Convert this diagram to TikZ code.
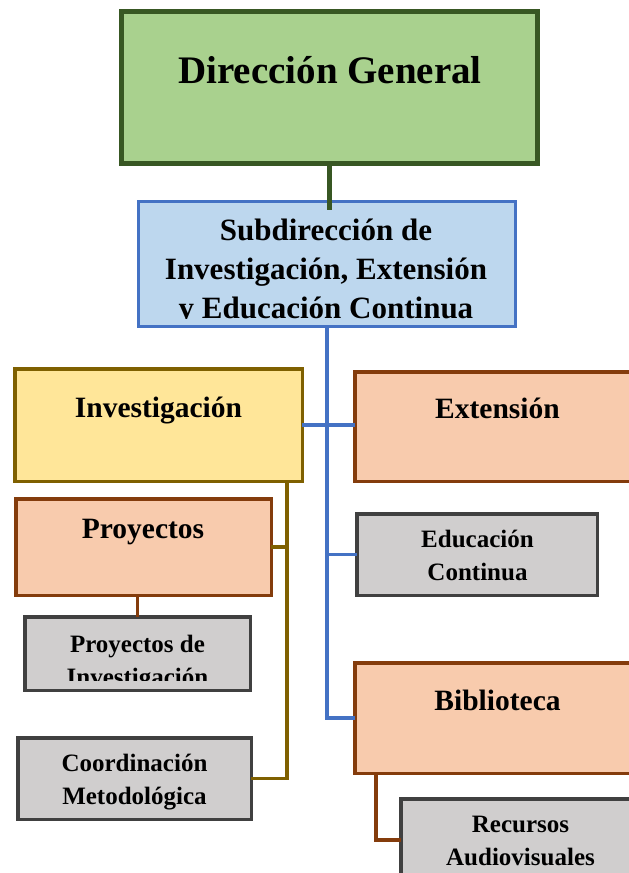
\documentclass[tikz,border=0pt]{standalone}
\usepackage{fontspec}
\setmainfont{Liberation Serif}
\usetikzlibrary{calc}

\definecolor{vertF}{HTML}{A9D18E}
\definecolor{vertB}{HTML}{385723}
\definecolor{bleuF}{HTML}{BDD7EE}
\definecolor{bleuB}{HTML}{4472C4}
\definecolor{jauneF}{HTML}{FFE699}
\definecolor{jauneB}{HTML}{7F6000}
\definecolor{saumonF}{HTML}{F8CBAD}
\definecolor{saumonB}{HTML}{843C0C}
\definecolor{grisF}{HTML}{D0CECE}
\definecolor{grisB}{HTML}{404040}

\begin{document}
\begin{tikzpicture}[x=1pt,y=-1pt,
  boite/.style={rectangle,inner sep=0pt,outer sep=0pt,line width=3.5pt},
  lien/.style={line width=3.8pt},
  etiq/.style={anchor=base,inner sep=0pt,font=\bfseries\fontsize{29.5}{39}\selectfont},
  petit/.style={anchor=base,inner sep=0pt,align=center,font=\bfseries\fontsize{25}{33}\selectfont}]

\path[use as bounding box] (0,0) rectangle (629,873);
\clip (0,0) rectangle (629,873);

%%%%%%%%%%%%%%%%%%%%%%%%
% Les boites
%%%%%%%%%%%%%%%%%%%%%%%%
\node[boite,line width=5pt,draw=vertB,fill=vertF,minimum width=416,minimum height=152] (dg) at (329.5,87.5) {};
\node[boite,line width=3pt,draw=bleuB,fill=bleuF,minimum width=377,minimum height=125] (sub) at (327,264) {};
\node[boite,draw=jauneB,fill=jauneF,minimum width=287.5,minimum height=112.5] (inv) at (158.5,425) {};
\node[boite,draw=saumonB,fill=saumonF,minimum width=345,minimum height=109.5] (ext) at (527.4,426.5) {};
\node[boite,draw=saumonB,fill=saumonF,minimum width=255.5,minimum height=96.5] (proy) at (143.5,547) {};
\node[boite,draw=grisB,fill=grisF,minimum width=225.5,minimum height=73.5] (pinv) at (137.5,653.5) {};
\node[boite,draw=grisB,fill=grisF,minimum width=240.5,minimum height=81.5] (edu) at (477,554.5) {};
\node[boite,draw=grisB,fill=grisF,minimum width=233.5,minimum height=81.5] (coord) at (134.5,778.5) {};
\node[boite,draw=saumonB,fill=saumonF,minimum width=345,minimum height=110.5] (bib) at (527.4,718) {};
\node[boite,draw=grisB,fill=grisF,minimum width=299,minimum height=151] (rec) at (550.4,874.4) {};

%%%%%%%%%%%%%%%%%%%%%%%%
% Les liaisons
%%%%%%%%%%%%%%%%%%%%%%%%
\coordinate (sb) at ([yshift=-8pt]sub.north);
\draw[vertB,line width=5pt] (dg.south) -- (dg.south |- sb);
\draw[bleuB,lien] (sub.south) |- (bib.west);
\draw[bleuB,lien] (inv.east) -- (inv.east -| ext.west);
\draw[bleuB,lien] (sub.south |- edu.west) -- (edu.west);
% bus de Investigación
\coordinate (ib) at ([xshift=-15pt]inv.south east);
\draw[jauneB,lien] (ib) |- (coord.east);
\draw[jauneB,lien] (proy.east) -- (proy.east -| ib);
\draw[saumonB,lien] (pinv.north |- proy.south) -- (pinv.north);
% sous Biblioteca
\coordinate (rb) at ([yshift=-41pt]rec.north west);
\coordinate (bb) at ([xshift=21pt]bib.south west);
\draw[saumonB,lien] (bb) |- (rb);

%%%%%%%%%%%%%%%%%%%%%%%%
% Les textes (base = ligne du bas)
%%%%%%%%%%%%%%%%%%%%%%%%
\node[etiq,font=\bfseries\fontsize{39}{47}\selectfont] (dgtxt) at (330,83) {Dirección General};
\begin{scope}
  \clip (sub.north west) rectangle ([yshift=8.5pt]sub.south east);
  \node[etiq,align=center,font=\bfseries\fontsize{31}{39}\selectfont] (subtxt) at (326,318) {Subdirección de\\Investigación, Extensión\\y Educación Continua};
\end{scope}
\node[etiq] (invtxt) at (158.5,417) {Investigación};
\node[etiq] (exttxt) at (497.5,418) {Extensión};
\node[etiq] (proytxt) at (143,538) {Proyectos};
\begin{scope}
  \clip (pinv.north west) rectangle ([yshift=10pt]pinv.south east);
  \node[petit] (pinvtxt) at (137.5,685) {Proyectos de\\Investigación};
\end{scope}
\node[petit] (edutxt) at (477.5,580) {Educación\\Continua};
\node[petit] (coordtxt) at (134.5,804) {Coordinación\\Metodológica};
\node[etiq] (bibtxt) at (497.5,710) {Biblioteca};
\node[petit] (rectxt) at (520.5,865) {Recursos\\Audiovisuales};

\end{tikzpicture}
\end{document}
